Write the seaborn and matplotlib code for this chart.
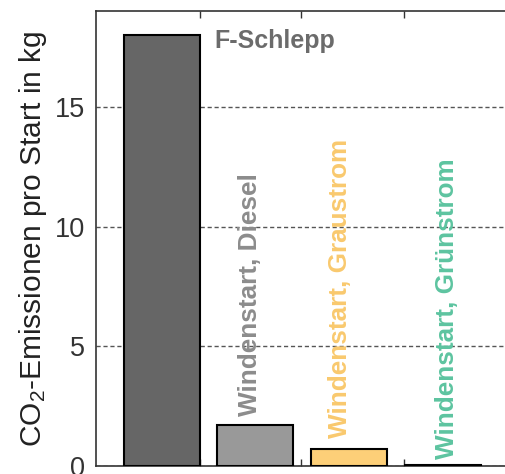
import numpy as np
import pandas as pd
import matplotlib
matplotlib.use("Agg")
import matplotlib.pyplot as plt
import seaborn as sns

# Data
categories = ["F-Schlepp", "Windenstart, Diesel", "Windenstart, Graustrom", "Windenstart, Grünstrom"]
emissions = [18.0, 1.72, 0.72, 0.05]
bar_colors = ["#666666", "#999999", "#FDCF78", "#5CC39E"]
label_colors = ["#6b6b6b", "#8c8c8c", "#F9C96E", "#5DC4A0"]

df = pd.DataFrame({"Variante": categories, "CO2": emissions})

sns.set_style("white")
plt.rcParams["font.family"] = ["Liberation Sans", "DejaVu Sans"]
plt.rcParams["mathtext.fontset"] = "custom"
plt.rcParams["mathtext.rm"] = "Liberation Sans"
plt.rcParams["mathtext.it"] = "Liberation Sans:italic"

fig = plt.figure(figsize=(5.05, 4.74), dpi=100)
ax = fig.add_axes([96 / 505, 8 / 474, 420 / 505, 455 / 474])

sns.barplot(data=df, x="Variante", y="CO2", hue="Variante", palette=bar_colors, saturation=1,
            width=0.81, edgecolor="black", linewidth=1.5, legend=False, ax=ax, zorder=3)

ax.set_ylim(0, 19)
ax.set_xlim(-0.70, 3.78)
ax.set_yticks([0, 5, 10, 15])
ax.tick_params(axis="y", labelsize=19.5, direction="in", length=0, pad=8, colors="#333333")
ax.set_xticks([0.405, 1.49, 2.59])
ax.set_xticklabels([])
ax.tick_params(axis="x", direction="in", top=True, bottom=True, length=5, width=1, color="#333333")
ax.set_xlabel("")
ax.set_ylabel("CO$_2$-Emissionen pro Start in kg", fontsize=21.5, color="#222222", labelpad=4)

ax.yaxis.grid(True, linestyle=(0, (3, 2)), color="#555555", linewidth=1, zorder=0)
ax.xaxis.grid(False)
for s in ["left", "top", "bottom"]:
    ax.spines[s].set_color("#333333")
    ax.spines[s].set_linewidth(1.2)
ax.spines["right"].set_visible(False)

# labels next to the bars
ax.text(0.565, 18.25, categories[0], color=label_colors[0], fontsize=18, fontweight="bold",
        ha="left", va="top")
for i, dx, yb in zip([1, 2, 3], [-0.06, -0.1, 0.04], [2.1, 1.17, 0.3]):
    ax.text(i + dx, yb, categories[i], color=label_colors[i], fontsize=18.8, fontweight="bold",
            rotation=90, ha="center", va="bottom")

fig.savefig("out.png", dpi=100)
